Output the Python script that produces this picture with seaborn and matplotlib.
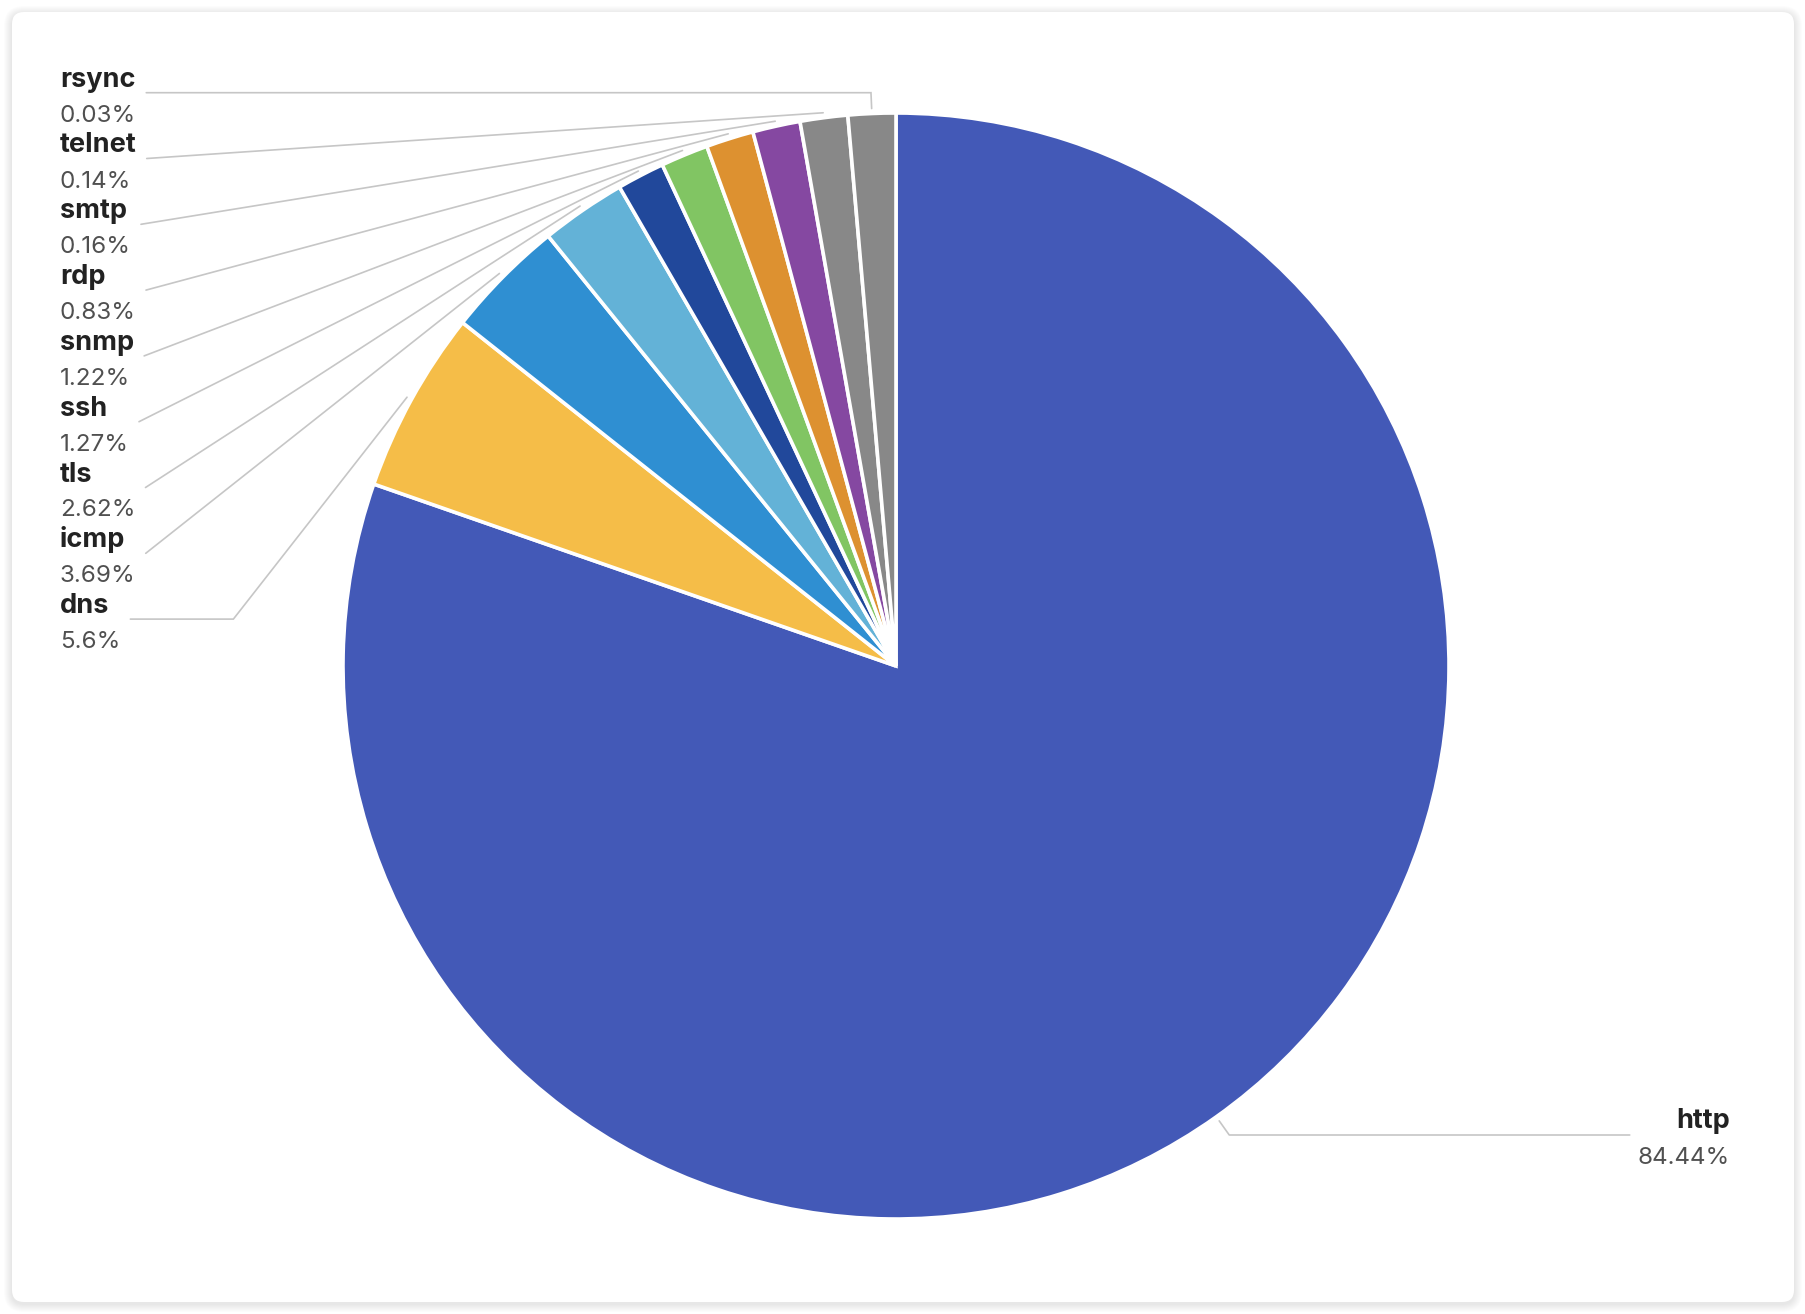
import numpy as np
import matplotlib
matplotlib.use("Agg")
import matplotlib.pyplot as plt
from matplotlib.patches import FancyBboxPatch
import seaborn as sns

# ---------------- data ----------------
protocols = ["http", "dns", "icmp", "tls", "ssh", "snmp", "rdp", "smtp", "telnet", "rsync"]
shares = [84.44, 5.6, 3.69, 2.62, 1.27, 1.22, 0.83, 0.16, 0.14, 0.03]
share_labels = ["84.44%", "5.6%", "3.69%", "2.62%", "1.27%", "1.22%", "0.83%", "0.16%", "0.14%", "0.03%"]
slice_colors = ["#4359B7", "#F5BD48", "#2F8FD2", "#63B2D7", "#21489B",
                "#81C563", "#DD9130", "#8548A1", "#888888", "#888888"]

# ---------------- layout ----------------
W, H, DPI = 1806, 1314, 100
CX, CY, R = 896, 666, 553          # pie centre / radius in pixels (y downwards)
MIN_ANGLE = 5.0                    # smallest drawn slice, degrees
NAME_FS, PCT_FS = 19.5, 17.4
NAME_C, PCT_C, LINE_C = "#222222", "#505050", "#c6c6c6"
LEFT_X, TOP_BASE, ROW_STEP = 60, 86.7, 65.8

sns.set_theme(style="white")
plt.rcParams["font.family"] = ["Inter", "DejaVu Sans"]
palette = sns.color_palette(slice_colors)

def Y(y):
    return H - y

vals = np.array(shares, float)
ang = vals / vals.sum() * 360.0
small = ang < MIN_ANGLE
disp = np.where(small, MIN_ANGLE, ang * (360.0 - MIN_ANGLE * small.sum()) / ang[~small].sum())

fig = plt.figure(figsize=(W / DPI, H / DPI), dpi=DPI)
fig.patch.set_facecolor("white")
ax = fig.add_axes([0, 0, 1, 1])

# card with soft shadow
for k in range(8, 0, -1):
    ax.add_patch(FancyBboxPatch((12, 10), 1782, 1290,
                                boxstyle=f"round,pad={k},rounding_size={12 + k}",
                                facecolor="black", edgecolor="none", alpha=0.012, zorder=0))
ax.add_patch(FancyBboxPatch((12, 12), 1782, 1290, boxstyle="round,pad=0,rounding_size=12",
                            facecolor="white", edgecolor="none", zorder=1))

wedges, _ = ax.pie(disp, colors=palette, startangle=90, counterclock=False,
                   center=(CX, Y(CY)), radius=R,
                   wedgeprops=dict(edgecolor="white", linewidth=2.6, zorder=3))
for w in wedges:
    w.set_zorder(3)

ax.set_xlim(0, W)
ax.set_ylim(0, H)
ax.set_aspect("auto")
ax.axis("off")

renderer = fig.canvas.get_renderer()


def anchor(idx):
    w = wedges[idx]
    mid = np.deg2rad((w.theta1 + w.theta2) / 2.0)
    u = np.array([np.cos(mid), np.sin(mid)])
    p0 = np.array([CX, Y(CY)]) + (R + 5) * u
    return p0, u


def line_points(p0, u, p2, side):
    ly = p2[1]
    if abs(u[1]) > 1e-6:
        t = (ly - p0[1]) / u[1]
        if 0 <= t <= 40:
            return [p0, p0 + t * u, p2]
    cand = np.array([p2[0] + 103 * side, ly])
    dx = abs(p0[0] - cand[0])
    dy = abs(p0[1] - ly)
    if (p0[0] - cand[0]) * side > 0 and np.degrees(np.arctan2(dy, dx)) > 49:
        return [p0, cand, p2]
    return [p0, p2]


# left column labels (top to bottom: smallest to dns)
left_order = list(range(len(protocols) - 1, 0, -1))
for row, idx in enumerate(left_order):
    yb = TOP_BASE + row * ROW_STEP
    t1 = ax.text(LEFT_X, Y(yb), protocols[idx], ha="left", va="baseline",
                 fontsize=NAME_FS, fontweight="bold", color=NAME_C, zorder=5)
    t2 = ax.text(LEFT_X, Y(yb + 35), share_labels[idx], ha="left", va="baseline",
                 fontsize=PCT_FS, color=PCT_C, zorder=5)
    right = max(t1.get_window_extent(renderer).x1, t2.get_window_extent(renderer).x1)
    p2 = np.array([right + 10, Y(yb + 6)])
    p0, u = anchor(idx)
    pts = np.array(line_points(p0, u, p2, +1))
    ax.plot(pts[:, 0], pts[:, 1], color=LINE_C, lw=1.2, zorder=2, solid_joinstyle="miter")

# http label on the right
yb = 1128
t1 = ax.text(1730, Y(yb), protocols[0], ha="right", va="baseline",
             fontsize=NAME_FS, fontweight="bold", color=NAME_C, zorder=5)
t2 = ax.text(1730, Y(yb + 36), share_labels[0], ha="right", va="baseline",
             fontsize=PCT_FS, color=PCT_C, zorder=5)
left = min(t1.get_window_extent(renderer).x0, t2.get_window_extent(renderer).x0)
p2 = np.array([left - 8, Y(yb + 7)])
p0, u = anchor(0)
pts = np.array(line_points(p0, u, p2, -1))
ax.plot(pts[:, 0], pts[:, 1], color=LINE_C, lw=1.2, zorder=2)

fig.savefig("out.png", dpi=DPI, facecolor="white")
